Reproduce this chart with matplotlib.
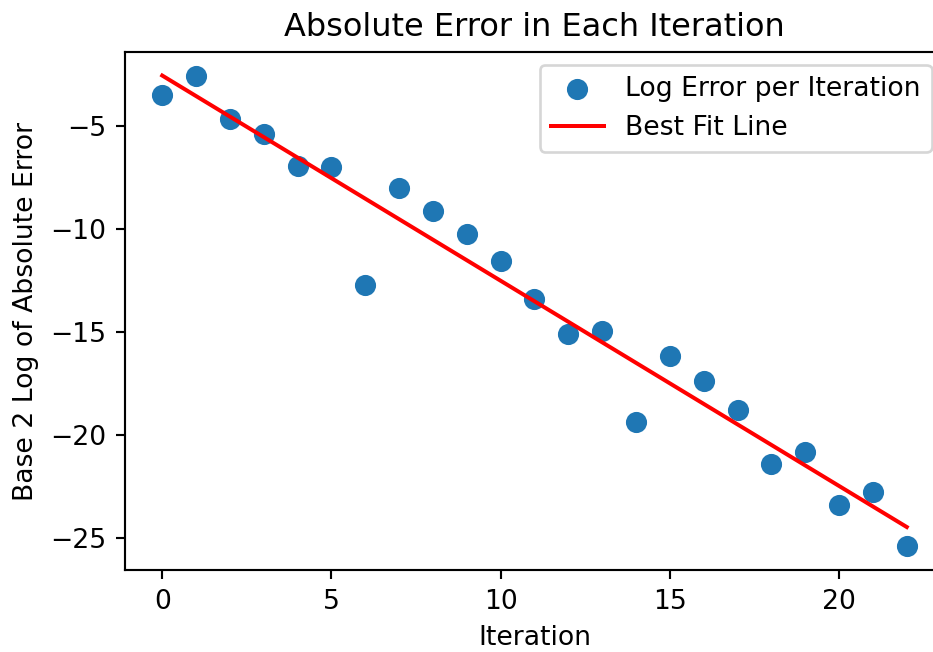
import numpy as np
import matplotlib
matplotlib.use("Agg")
import matplotlib.pyplot as plt

iterations = list(range(23))
log_error = [-3.5, -2.57, -4.66, -5.39, -6.94, -6.99, -12.72, -8.01, -9.13, -10.24,
             -11.55, -13.4, -15.1, -14.95, -19.37, -16.17, -17.38, -18.79, -21.4,
             -20.83, -23.4, -22.77, -25.39]

W, H, DPI = 933, 652, 192
fig = plt.figure(figsize=(W / DPI, H / DPI), dpi=DPI)
left, right, top, bottom = 125, 944, 52, 570
ax = fig.add_axes([left / W, (H - bottom) / H, (right - left) / W, (bottom - top) / H])

x = np.array(iterations)
y = np.array(log_error)
coef = np.polyfit(x, y, 1)
ax.scatter(x, y, s=48, color="#1f77b4", label="Log Error per Iteration")
ax.plot(x, np.polyval(coef, x), color="red", label="Best Fit Line")
ax.set_title("Absolute Error in Each Iteration", fontsize=12)
ax.set_xlabel("Iteration")
ax.set_ylabel("Base 2 Log of Absolute Error")
ax.set_yticks([-5, -10, -15, -20, -25])
ax.legend(loc="upper right", bbox_to_anchor=(931.5 / W, (H - 65) / H),
          bbox_transform=fig.transFigure, borderaxespad=0)
fig.savefig("out.png", dpi=DPI)
